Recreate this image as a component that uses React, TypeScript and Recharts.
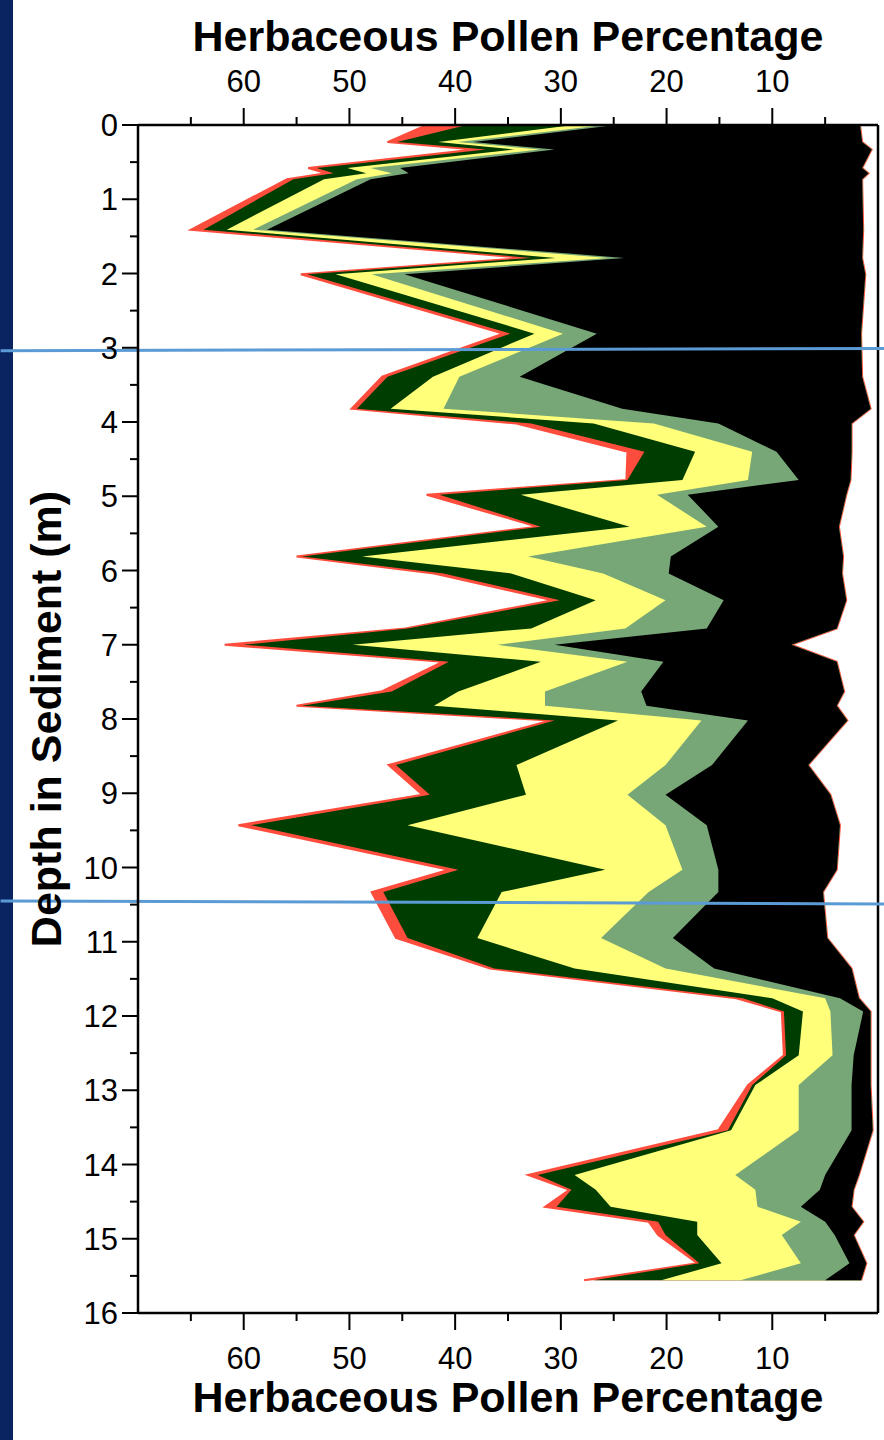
import React from 'react';
import { AreaChart, Area, XAxis, YAxis, ReferenceLine } from 'recharts';

// Sample depths (m)
const depth = [
  0.0, 0.23, 0.33, 0.58, 0.65, 0.73, 1.41, 1.79, 2.01, 2.81, 3.39, 3.82, 4.02, 4.4, 4.78, 4.98,
  5.41, 5.81, 6.04, 6.4, 6.78, 7.0, 7.23, 7.63, 7.82, 8.02, 8.62, 9.02, 9.43, 10.03, 10.33,
  10.95, 11.36, 11.76, 11.94, 12.53, 12.93, 13.54, 14.14, 14.34, 14.57, 14.77, 14.95, 15.33, 15.56,
];
// Cumulative percentage edges (outer edge of each band)
const redEdge = [
  42.7, 46.4, 38.2, 53.9, 52.2, 55.9, 65.0, 33.5, 54.6, 35.5, 46.9, 49.8, 34.2, 23.7, 23.8, 42.7,
  32.2, 55.0, 42.0, 30.8, 44.7, 61.8, 41.2, 47.0, 55.0, 31.0, 46.3, 43.1, 60.5, 40.6, 47.9,
  45.6, 36.7, 13.4, 9.1, 8.9, 12.3, 15.1, 33.1, 29.2, 31.5, 21.7, 20.8, 17.1, 27.8,
];
const darkGreenEdge = [
  38.9, 45.5, 37.1, 53.1, 51.5, 55.3, 63.8, 32.8, 54.0, 34.8, 46.4, 49.3, 32.8, 22.1, 23.7, 41.5,
  31.9, 54.5, 41.1, 30.1, 44.5, 60.0, 40.6, 46.0, 54.5, 30.6, 45.6, 42.4, 59.3, 39.7, 46.8,
  44.5, 36.3, 12.8, 8.9, 8.7, 11.9, 14.2, 32.2, 29.0, 30.4, 20.8, 20.1, 16.9, 26.9,
];
const yellowEdge = [
  28.8, 41.6, 34.4, 50.2, 48.4, 52.4, 61.6, 30.5, 51.3, 32.5, 42.1, 46.1, 26.9, 17.3, 18.5, 33.8,
  23.5, 48.8, 34.7, 26.7, 32.8, 49.7, 31.9, 39.7, 42.0, 24.6, 34.2, 33.3, 44.5, 25.8, 35.6,
  37.9, 28.7, 10.0, 7.1, 7.5, 11.6, 13.9, 28.7, 26.7, 25.3, 17.1, 17.1, 14.8, 20.5,
];
const sageEdge = [
  25.9, 39.8, 32.0, 48.0, 46.0, 49.3, 59.1, 25.5, 47.9, 29.8, 39.6, 41.1, 21.2, 11.9, 12.3, 20.9,
  16.2, 33.1, 26.0, 20.1, 23.9, 36.0, 23.7, 31.5, 31.5, 16.7, 20.1, 23.7, 20.1, 18.5, 21.7,
  26.2, 20.1, 5.0, 4.5, 4.3, 7.5, 7.5, 13.5, 11.6, 11.4, 7.3, 9.1, 7.3, 13.0,
];
const blackEdge = [
  24.8, 38.3, 30.6, 45.2, 44.4, 48.0, 57.8, 24.0, 44.8, 26.6, 33.9, 24.2, 15.1, 9.6, 7.5, 18.0,
  15.1, 19.6, 19.8, 14.6, 16.2, 30.6, 20.3, 22.4, 21.9, 12.3, 15.7, 20.1, 16.2, 15.1, 15.1,
  19.4, 15.5, 3.6, 1.4, 2.3, 2.5, 2.5, 5.0, 5.5, 7.3, 5.0, 4.1, 2.7, 5.0,
];
const baseEdge = [
  1.7, 1.5, 0.6, 1.5, 0.9, 1.5, 1.4, 1.5, 1.2, 1.6, 1.5, 0.7, 2.5, 2.5, 2.6, 3.0,
  3.7, 3.3, 3.4, 3.0, 3.9, 8.2, 3.9, 3.2, 3.9, 2.9, 6.6, 4.5, 3.6, 3.9, 5.2,
  4.8, 2.5, 1.8, 0.7, 0.7, 0.7, 0.5, 1.8, 2.3, 2.5, 1.4, 2.3, 1.1, 1.6,
];

const xTicks = [5, 10, 15, 20, 25, 30, 35, 40, 45, 50, 55, 60, 65];
const yTicks = [
  0, 0.5, 1, 1.5, 2, 2.5, 3, 3.5, 4, 4.5, 5, 5.5, 6, 6.5, 7, 7.5, 8, 8.5, 9, 9.5, 10,
  10.5, 11, 11.5, 12, 12.5, 13, 13.5, 14, 14.5, 15, 15.5, 16,
];
const markerDepths = [
  [3.04, 3.01],
  [10.45, 10.49],
];

const data = depth.map((d, i) => ({
  depth: d,
  red: [baseEdge[i], redEdge[i]],
  darkGreen: [baseEdge[i], darkGreenEdge[i]],
  yellow: [baseEdge[i], yellowEdge[i]],
  sage: [baseEdge[i], sageEdge[i]],
  black: [baseEdge[i], blackEdge[i]],
}));

const FONT = '"Liberation Sans", Arial, Helvetica, sans-serif';
const TITLE = 'Herbaceous Pollen Percentage';

const XTick = (side: 'top' | 'bottom') => (props: any) => {
  const { x, y, payload } = props;
  const v = payload.value;
  const major = v % 10 === 0;
  const len = major ? 17 : 8;
  const dir = side === 'top' ? -1 : 1;
  return (
    <g>
      <line x1={x} y1={y} x2={x} y2={y + dir * len} stroke="#000" strokeWidth={2} />
      {major && (
        <text
          x={x}
          y={side === 'top' ? y - 33 : y + 56}
          textAnchor="middle"
          fontSize={31}
          fontFamily={FONT}
          fill="#000"
        >
          {v}
        </text>
      )}
    </g>
  );
};

const YTick = (props: any) => {
  const { x, y, payload } = props;
  const v = payload.value;
  const major = Number.isInteger(v);
  const len = major ? 16 : 8;
  return (
    <g>
      <line x1={x} y1={y} x2={x - len} y2={y} stroke="#000" strokeWidth={2} />
      {major && (
        <text x={x - 20} y={y + 11} textAnchor="end" fontSize={31} fontFamily={FONT} fill="#000">
          {v}
        </text>
      )}
    </g>
  );
};

const xTitle = (baseline: number) => (props: any) => {
  const vb = props.viewBox;
  return (
    <text
      x={vb.x + vb.width / 2}
      y={baseline}
      textAnchor="middle"
      fontSize={43}
      fontWeight="bold"
      fontFamily={FONT}
      fill="#000"
    >
      {TITLE}
    </text>
  );
};

const yTitle = (props: any) => {
  const vb = props.viewBox;
  const cx = 61;
  const cy = vb.y + vb.height / 2;
  return (
    <text
      x={cx}
      y={cy}
      transform={`rotate(-90 ${cx} ${cy})`}
      textAnchor="middle"
      fontSize={43}
      fontWeight="bold"
      fontFamily={FONT}
      fill="#000"
    >
      Depth in Sediment (m)
    </text>
  );
};

const axisLine = { stroke: '#000', strokeWidth: 2.5 };

export default function App() {
  return (
    <div
      style={{
        position: 'absolute',
        left: 0,
        top: 0,
        width: 884,
        height: 1440,
        background: '#ffffff',
        overflow: 'hidden',
      }}
    >
      <div
        style={{ position: 'absolute', left: 0, top: 0, width: 13, height: 1440, background: '#0a2361' }}
      />
      <div style={{ position: 'absolute', left: 0, top: 0 }}>
        <AreaChart
          width={884}
          height={1440}
          data={data}
          layout="vertical"
          margin={{ top: 0, right: 6, bottom: 0, left: 0 }}
        >
          <XAxis
            xAxisId="top"
            orientation="top"
            type="number"
            domain={[0, 70]}
            reversed
            allowDataOverflow
            ticks={xTicks}
            interval={0}
            height={125}
            tickSize={0}
            tickMargin={0}
            tickLine={false}
            axisLine={axisLine}
            tick={XTick('top')}
            label={{ content: xTitle(51) }}
          />
          <XAxis
            xAxisId="bottom"
            orientation="bottom"
            type="number"
            domain={[0, 70]}
            reversed
            allowDataOverflow
            ticks={xTicks}
            interval={0}
            height={127}
            tickSize={0}
            tickMargin={0}
            tickLine={false}
            axisLine={axisLine}
            tick={XTick('bottom')}
            label={{ content: xTitle(1412) }}
          />
          <YAxis
            yAxisId="left"
            orientation="left"
            type="number"
            dataKey="depth"
            domain={[0, 16]}
            allowDataOverflow
            ticks={yTicks}
            interval={0}
            width={138}
            tickSize={0}
            tickMargin={0}
            tickLine={false}
            axisLine={axisLine}
            tick={YTick}
            label={{ content: yTitle }}
          />
          <Area
            xAxisId="top"
            yAxisId="left"
            type="linear"
            dataKey="red"
            fill="#ff4d3d"
            fillOpacity={1}
            stroke="#ff4d3d"
            strokeWidth={2}
            dot={false}
            activeDot={false}
            isAnimationActive={false}
          />
          <Area
            xAxisId="top"
            yAxisId="left"
            type="linear"
            dataKey="darkGreen"
            fill="#003d00"
            fillOpacity={1}
            stroke="none"
            dot={false}
            activeDot={false}
            isAnimationActive={false}
          />
          <Area
            xAxisId="top"
            yAxisId="left"
            type="linear"
            dataKey="yellow"
            fill="#ffff7a"
            fillOpacity={1}
            stroke="none"
            dot={false}
            activeDot={false}
            isAnimationActive={false}
          />
          <Area
            xAxisId="top"
            yAxisId="left"
            type="linear"
            dataKey="sage"
            fill="#77a777"
            fillOpacity={1}
            stroke="none"
            dot={false}
            activeDot={false}
            isAnimationActive={false}
          />
          <Area
            xAxisId="top"
            yAxisId="left"
            type="linear"
            dataKey="black"
            fill="#000000"
            fillOpacity={1}
            stroke="none"
            dot={false}
            activeDot={false}
            isAnimationActive={false}
          />
          <ReferenceLine xAxisId="top" yAxisId="left" x={0} stroke="#000" strokeWidth={2.5} />
          {markerDepths.map((m, i) => (
            <ReferenceLine
              key={i}
              xAxisId="top"
              yAxisId="left"
              segment={[
                { x: 83, y: m[0] },
                { x: -0.6, y: m[1] },
              ]}
              ifOverflow="visible"
              stroke="#5b9bd5"
              strokeWidth={3}
            />
          ))}
        </AreaChart>
      </div>
    </div>
  );
}
